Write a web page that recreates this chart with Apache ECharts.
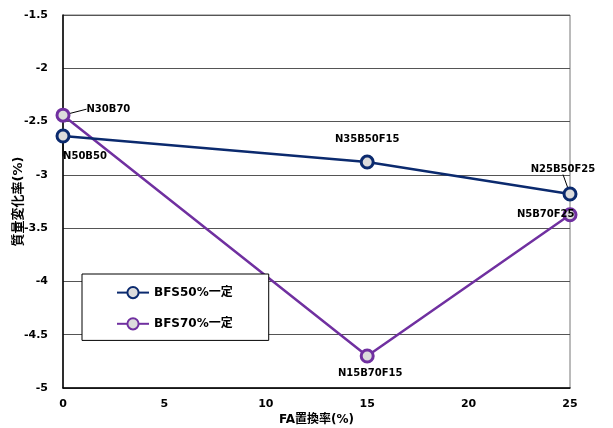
<!DOCTYPE html>
<html><head><meta charset="utf-8">
<script src="https://cdn.jsdelivr.net/npm/echarts@6/dist/echarts.min.js"></script>
<style>html,body{margin:0;padding:0;background:#fff}#c{width:613px;height:428px}</style>
</head><body><div id="c"></div>
<script>
const faRate = [0, 15, 25];
const bfs50 = [-2.635, -2.88, -3.18];
const bfs70 = [-2.44, -4.70, -3.375];
const labels50 = ['N50B50', 'N35B50F15', 'N25B50F25'];
const labels70 = ['N30B70', 'N15B70F15', 'N5B70F25'];
const seriesNames = ['BFS50%一定', 'BFS70%一定'];
const yTicks = [-5, -1.5, 0.5];
const xTicks = [0, 25, 5];

const FONT = '"DejaVu Sans", Verdana, "Noto Sans CJK JP", sans-serif';
const c50 = '#0b2a6e', c70 = '#7030a0';
const lab50 = [
  {position:'bottom', layout:{dx:22, dy:3}, line:true},
  {position:'top', layout:{dx:0, dy:-5}, line:false},
  {position:'top', layout:{dx:-7, dy:-7}, line:true}
];
const lab70 = [
  {position:'right', layout:{dx:11, dy:-6}, line:true},
  {position:'bottom', layout:{dx:3, dy:0}, line:false},
  {position:'left', layout:{dx:17, dy:0}, line:false}
];
function mk(vals, names, cfg){
  return vals.map((v,i)=>({value:[faRate[i], v], name:names[i],
    label:{show:true, position:cfg[i].position, formatter:names[i]},
    labelLine:{show:cfg[i].line, length2:0, lineStyle:{color:'#000', width:1}}}));
}
const chart = echarts.init(document.getElementById('c'));
chart.setOption({
  animation:false,
  textStyle:{fontFamily:FONT},
  grid:{left:63, right:43, top:15, bottom:40, containLabel:false, outerBoundsMode:'none',
    show:true, borderColor:'#777', borderWidth:1},
  legend:{
    orient:'vertical', left:82, top:274,
    padding:[12, 36, 10, 34], itemGap:18, itemWidth:32, itemHeight:14,
    borderColor:'#000', borderWidth:1, backgroundColor:'#fff',
    textStyle:{fontFamily:FONT, fontWeight:'bold', fontSize:12, color:'#000'},
    data:seriesNames
  },
  xAxis:{type:'value', min:xTicks[0], max:xTicks[1], interval:xTicks[2],
    name:'FA置換率(%)', nameLocation:'middle', nameGap:26, nameMoveOverlap:false,
    nameTextStyle:{fontFamily:FONT, fontWeight:'bold', fontSize:12, color:'#000'},
    axisLine:{lineStyle:{color:'#000', width:1.5}}, axisTick:{show:false},
    splitLine:{show:false},
    axisLabel:{fontFamily:FONT, fontWeight:'bold', fontSize:11, color:'#000', margin:11}},
  yAxis:{type:'value', min:yTicks[0], max:yTicks[1], interval:yTicks[2],
    name:'質量変化率(%)', nameLocation:'middle', nameGap:38, nameMoveOverlap:false,
    nameTextStyle:{fontFamily:FONT, fontWeight:'bold', fontSize:13, color:'#000'},
    axisLine:{lineStyle:{color:'#000', width:1.5}}, axisTick:{show:false},
    splitLine:{lineStyle:{color:'#555', width:1}},
    axisLabel:{fontFamily:FONT, fontWeight:'bold', fontSize:11, color:'#000', margin:15}},
  series:[
    {name:seriesNames[0], type:'line', data:mk(bfs50, labels50, lab50),
     symbol:'circle', symbolSize:12,
     lineStyle:{color:c50, width:2.5},
     itemStyle:{color:'#dcdcdc', borderColor:c50, borderWidth:3},
     label:{fontFamily:FONT, fontWeight:'bold', fontSize:10, color:'#000'},
     labelLayout:(p)=>lab50[p.dataIndex].layout,
     z:3},
    {name:seriesNames[1], type:'line', data:mk(bfs70, labels70, lab70),
     symbol:'circle', symbolSize:12,
     lineStyle:{color:c70, width:2.5},
     itemStyle:{color:'#dcdcdc', borderColor:c70, borderWidth:3},
     label:{fontFamily:FONT, fontWeight:'bold', fontSize:10, color:'#000'},
     labelLayout:(p)=>lab70[p.dataIndex].layout,
     z:2}
  ]
});
</script></body></html>
